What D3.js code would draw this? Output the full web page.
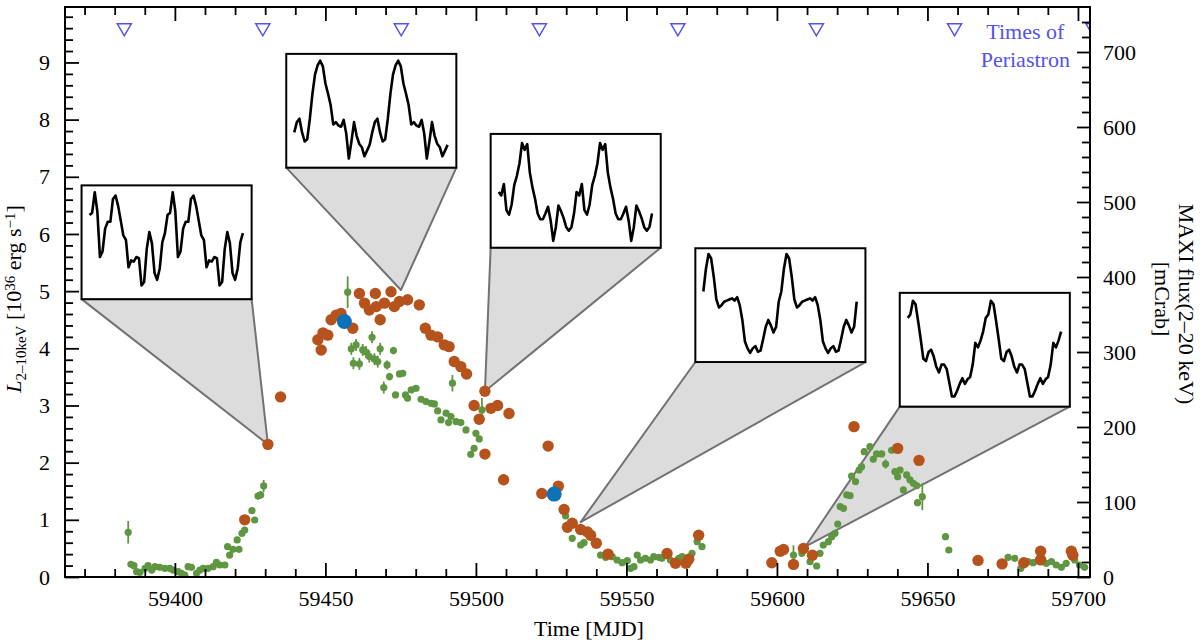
<!DOCTYPE html>
<html>
<head>
<meta charset="utf-8">
<script src="https://cdn.jsdelivr.net/npm/d3@7"></script>
<style>
  body { margin: 0; background: #fff; }
  svg { font-family: "Liberation Serif", "Times New Roman", serif; }
</style>
</head>
<body>
<svg id="chart" width="1200" height="642"></svg>
<script>
// Luminosity points (left axis, 10^36 erg/s)
var orangeMJD = [59423.2, 59430.9, 59435.1, 59447.5, 59448.6, 59449.2, 59450.8, 59451.9, 59453.6, 59455.2,
  59459.1, 59461.3, 59463.0, 59464.6, 59466.6, 59466.9, 59468.2, 59469.6, 59471.8, 59472.9,
  59474.6, 59477.3, 59481.2, 59483.2, 59485.1, 59487.3, 59489.5, 59491.1, 59492.8, 59495.0,
  59496.9, 59499.4, 59501.1, 59503.0, 59503.0, 59505.0, 59507.2, 59509.2, 59511.0, 59521.9,
  59524.0, 59527.4, 59529.3, 59530.4, 59532.0, 59534.8, 59537.0, 59538.1, 59540.0, 59543.9,
  59563.5, 59566.3, 59569.8, 59570.7, 59574.0, 59598.3, 59601.1, 59602.2, 59605.5, 59608.8,
  59611.8, 59625.6, 59640.1, 59647.2, 59666.8, 59674.8, 59682.0, 59687.6, 59687.6, 59697.8, 59698.3];
var orangeL = [1.00, 2.32, 3.15, 4.15, 3.97, 4.27, 4.23, 4.50, 4.58, 4.61,
  4.35, 4.96, 4.79, 4.67, 4.96, 4.73, 4.50, 4.79, 4.99, 4.73,
  4.82, 4.85, 4.76, 4.35, 4.23, 4.20, 4.06, 4.03, 3.77, 3.68,
  3.55, 3.00, 2.76, 3.25, 2.15, 2.95, 3.00, 1.70, 2.86, 1.46,
  2.29, 1.59, 1.18, 0.87, 0.94, 0.83, 0.79, 0.73, 0.59, 0.40,
  0.41, 0.24, 0.24, 0.31, 0.73, 0.25, 0.45, 0.48, 0.22, 0.50,
  0.38, 2.63, 2.25, 2.04, 0.29, 0.23, 0.25, 0.45, 0.30, 0.45, 0.38];

var blueMJD = [59456.3, 59526.0];
var blueL = [4.47, 1.45];

// MAXI flux (right axis, mCrab)
var maxiMJD = [59384.5, 59385.4, 59386.4, 59387.3, 59388.4, 59390.1, 59391.1, 59392.3, 59393.4, 59395.0,
  59396.7, 59398.3, 59399.4, 59401.1, 59402.2, 59403.3, 59404.4, 59405.5, 59407.2, 59408.3,
  59409.4, 59411.0, 59412.7, 59413.8, 59414.9, 59416.6, 59417.5, 59418.2, 59419.3, 59420.7,
  59421.3, 59422.3, 59423.2, 59425.6, 59426.5, 59427.6, 59428.5, 59429.5,
  59457.4, 59458.6, 59459.3, 59460.2, 59461.3, 59462.4, 59463.5, 59464.6, 59465.5, 59466.3,
  59467.4, 59468.2, 59469.4, 59470.5, 59471.3, 59472.6, 59473.3, 59474.6, 59475.7, 59476.6,
  59477.3, 59478.5, 59480.1, 59481.8, 59483.4, 59485.1, 59486.2, 59487.3, 59488.4, 59490.1,
  59490.9, 59491.7, 59492.2, 59493.4, 59495.0, 59496.7, 59498.3, 59499.4, 59500.0, 59501.1, 59502.0,
  59529.8, 59532.0, 59534.8, 59535.9, 59541.4, 59543.1, 59545.3, 59546.9, 59548.6, 59550.3,
  59551.4, 59552.5, 59553.6, 59554.7, 59556.3, 59558.0, 59559.1, 59560.8, 59561.8, 59564.6,
  59567.4, 59568.5, 59571.8, 59573.5, 59575.1,
  59605.5, 59608.3, 59611.0, 59613.2, 59614.3, 59615.4, 59617.1, 59618.2, 59619.3, 59620.2,
  59621.0, 59622.1, 59623.2, 59624.3, 59624.8, 59626.1, 59627.3, 59628.1, 59629.0, 59630.9,
  59632.0, 59633.1, 59634.8, 59636.1, 59638.1, 59639.2, 59640.1, 59640.9, 59642.0, 59643.1,
  59644.2, 59645.3, 59646.4, 59646.7, 59648.3, 59656.0, 59657.1,
  59676.8, 59679.0, 59681.0, 59683.4, 59685.1, 59686.7, 59689.5, 59691.2, 59692.8, 59694.5,
  59696.1, 59698.9, 59700.5, 59702.2];
var maxiFlux = [59.6, 16.9, 15.1, 7.1, 6.2, 11.6, 15.1, 9.3, 13.8, 12.9,
  11.6, 11.6, 9.3, 7.1, 4.9, 2.7, 13.8, 12.9, 4.9, 9.3,
  11.6, 11.6, 13.8, 19.6, 16.0, 16.0, 40.4, 29.3, 36.9, 49.4,
  36.9, 58.3, 62.7, 88.5, 76.0, 108.0, 109.4, 121.4,
  379.8, 304.2, 285.0, 309.5, 284.2, 302.8, 300.0, 293.9, 319.7, 290.4,
  287.2, 304.2, 252.6, 282.8, 267.2, 301.9, 242.8, 270.8, 271.7, 242.8,
  238.4, 249.5, 251.7, 237.0, 233.9, 231.7, 230.8, 221.5, 209.4, 218.4,
  205.9, 213.9, 258.4, 207.2, 205.9, 196.1, 163.7, 171.7, 191.7, 184.1, 222.8,
  81.4, 51.6, 42.7, 45.8, 29.3, 26.2, 27.1, 22.7, 19.1, 21.8,
  11.6, 13.8, 29.3, 22.7, 24.9, 22.7, 27.1, 26.2, 24.9, 22.7,
  24.9, 27.1, 31.6, 47.1, 40.4,
  29.3, 31.6, 20.4, 14.7, 31.6, 42.7, 47.1, 53.8, 58.3, 70.7,
  93.8, 91.6, 109.4, 108.5, 134.7, 127.2, 142.7, 147.1, 167.1, 173.8,
  157.0, 164.1, 164.1, 150.7, 169.0, 140.5, 133.8, 142.7, 116.1, 136.1,
  129.4, 125.0, 121.8, 99.1, 107.1, 53.8, 36.0,
  26.2, 24.9, 11.6, 20.4, 19.1, 21.8, 18.2, 20.4, 16.0, 12.9,
  18.2, 22.7, 16.0, 12.9];
var maxiErr = [15, 3, 3, 3, 3, 3, 3, 3, 3, 3,
  3, 3, 3, 3, 3, 3, 3, 3, 3, 3,
  3, 3, 3, 3, 3, 3, 4, 4, 4, 4,
  4, 4, 4, 4, 4, 5, 5, 8,
  21, 8, 8, 8, 8, 8, 8, 8, 8, 8,
  8, 8, 8, 6, 5, 5, 4, 4, 4, 4,
  4, 4, 4, 4, 4, 4, 4, 4, 4, 4,
  4, 4, 11, 4, 4, 4, 4, 4, 4, 4, 16,
  4, 4, 4, 4, 3, 3, 3, 3, 3, 3,
  3, 3, 3, 3, 3, 3, 3, 3, 3, 3,
  3, 3, 3, 4, 4,
  13, 4, 3, 3, 3, 3, 3, 3, 3, 3,
  4, 4, 4, 4, 4, 4, 4, 4, 4, 4,
  4, 4, 4, 6, 4, 4, 4, 4, 4, 4,
  4, 4, 4, 4, 18, 4, 4,
  3, 3, 3, 3, 3, 3, 3, 3, 3, 3,
  3, 3, 3, 3];

var periastronMJD = [59383.2, 59429.2, 59475.2, 59521.1, 59567.1, 59613.1, 59659.0, 59705.0];

// Tick labels
var xTicks = [59400, 59450, 59500, 59550, 59600, 59650, 59700];
var leftTicks = [0, 1, 2, 3, 4, 5, 6, 7, 8, 9];
var rightTicks = [0, 100, 200, 300, 400, 500, 600, 700];

// Inset pulse profiles: where each one points, and one cycle of normalised rate (drawn twice)
var insetApexMJD = [59430.9, 59475.1, 59503.0, 59534.8, 59609.4];
var insetApexL = [2.32, 5.02, 3.25, 0.96, 0.53];
var profile1 = [0.74, 0.76, 0.94, 0.77, 0.37, 0.42, 0.62, 0.68, 0.68, 0.88, 0.91, 0.82, 0.69, 0.56, 0.52,
  0.28, 0.34, 0.33, 0.37, 0.36, 0.12, 0.15, 0.44, 0.59, 0.49, 0.23, 0.17, 0.27, 0.50, 0.58];
var profile2 = [0.31, 0.40, 0.43, 0.31, 0.23, 0.25, 0.43, 0.65, 0.82, 0.90, 0.94, 0.89, 0.74, 0.65, 0.55,
  0.38, 0.40, 0.37, 0.36, 0.42, 0.30, 0.08, 0.23, 0.40, 0.28, 0.21, 0.18, 0.10, 0.15, 0.20];
var profile3 = [0.49, 0.46, 0.56, 0.33, 0.29, 0.38, 0.55, 0.63, 0.74, 0.92, 0.86, 0.91, 0.66, 0.53, 0.43,
  0.30, 0.25, 0.25, 0.30, 0.36, 0.24, 0.06, 0.18, 0.37, 0.32, 0.26, 0.18, 0.15, 0.18, 0.30];
var profile4 = [0.62, 0.82, 0.95, 0.91, 0.75, 0.55, 0.48, 0.50, 0.53, 0.54, 0.55, 0.56, 0.54, 0.57, 0.50,
  0.37, 0.18, 0.12, 0.08, 0.12, 0.14, 0.09, 0.10, 0.20, 0.31, 0.37, 0.32, 0.26, 0.31, 0.53];
var profile5 = [0.78, 0.81, 0.93, 0.90, 0.75, 0.59, 0.42, 0.40, 0.48, 0.50, 0.44, 0.35, 0.30, 0.37, 0.37,
  0.33, 0.21, 0.09, 0.09, 0.14, 0.20, 0.25, 0.20, 0.24, 0.26, 0.37, 0.56, 0.52, 0.58, 0.66];
var profiles = [profile1, profile2, profile3, profile4, profile5];

// Inset boxes, in data units
var insetLeftMJD = [59369.0, 59437.0, 59504.9, 59572.9, 59640.8];
var insetTopL = [6.85, 9.15, 7.75, 5.75, 4.97];
var insetWidthDays = 56.5,
    insetHeightL = 1.99;

var orange = "#b6531c", green = "#5f9641", blue = "#0b72b8", peri = "#5252ef";

var svg = d3.select("#chart"),
    margin = {top: 7, right: 110, bottom: 65, left: 65},
    width = +svg.attr("width") - margin.left - margin.right,
    height = +svg.attr("height") - margin.top - margin.bottom,
    g = svg.append("g").attr("transform", "translate(" + margin.left + "," + margin.top + ")");

var x = d3.scaleLinear().domain([59363.5, 59704]).range([0, width]);
var yL = d3.scaleLinear().domain([0, 9.97]).range([height, 0]);
var yR = d3.scaleLinear().domain([0, 760]).range([height, 0]);

svg.append("defs").append("clipPath").attr("id", "plotclip")
  .append("rect").attr("width", width).attr("height", height);

// Insets: connectors first, then boxes with profiles
var insets = g.append("g");
insetApexMJD.forEach(function(mjd, i) {
  var x0 = x(insetLeftMJD[i]), x1 = x(insetLeftMJD[i] + insetWidthDays),
      y1 = yL(insetTopL[i] - insetHeightL);
  insets.append("path")
    .attr("d", "M" + x0 + "," + y1 + "L" + x(mjd) + "," + yL(insetApexL[i]) + "L" + x1 + "," + y1 + "Z")
    .attr("fill", "#dcdcdc")
    .attr("stroke", "#727272")
    .attr("stroke-width", 2)
    .attr("stroke-linejoin", "round");
});
insetApexMJD.forEach(function(mjd, i) {
  var x0 = x(insetLeftMJD[i]), x1 = x(insetLeftMJD[i] + insetWidthDays),
      y0 = yL(insetTopL[i]), y1 = yL(insetTopL[i] - insetHeightL);
  var w = x1 - x0, h = y1 - y0;
  var box = insets.append("g").attr("transform", "translate(" + x0 + "," + y0 + ")");
  box.append("rect").attr("width", w).attr("height", h)
    .attr("fill", "#fff").attr("stroke", "#000").attr("stroke-width", 2);
  var prof = profiles[i], n = prof.length;
  var px = d3.scaleLinear().domain([0, 2]).range([w * 0.047, w * 0.047 + w * 0.917]);
  var py = d3.scaleLinear().domain([0, 1]).range([h, 0]);
  var pts = prof.concat(prof).map(function(v, k) { return [k / n, v]; });
  box.append("path")
    .attr("d", d3.line().x(function(d) { return px(d[0]); }).y(function(d) { return py(d[1]); })(pts))
    .attr("fill", "none")
    .attr("stroke", "#000")
    .attr("stroke-width", 2.6)
    .attr("stroke-linejoin", "round");
});

var plot = g.append("g").attr("clip-path", "url(#plotclip)");

// MAXI points with error bars
var maxi = maxiMJD.map(function(d, i) { return {t: d, f: maxiFlux[i], e: maxiErr[i]}; });
plot.append("g").selectAll("line").data(maxi).enter().append("line")
    .attr("x1", function(d) { return x(d.t); })
    .attr("x2", function(d) { return x(d.t); })
    .attr("y1", function(d) { return yR(d.f - d.e); })
    .attr("y2", function(d) { return yR(d.f + d.e); })
    .attr("stroke", green)
    .attr("stroke-width", 1.8);
plot.append("g").selectAll("circle").data(maxi).enter().append("circle")
    .attr("cx", function(d) { return x(d.t); })
    .attr("cy", function(d) { return yR(d.f); })
    .attr("r", 3.6)
    .attr("fill", green);

// Luminosity points
plot.append("g").selectAll("circle").data(orangeMJD).enter().append("circle")
    .attr("cx", function(d) { return x(d); })
    .attr("cy", function(d, i) { return yL(orangeL[i]); })
    .attr("r", 5.7)
    .attr("fill", orange);
plot.append("g").selectAll("circle").data(blueMJD).enter().append("circle")
    .attr("cx", function(d) { return x(d); })
    .attr("cy", function(d, i) { return yL(blueL[i]); })
    .attr("r", 7.5)
    .attr("fill", blue);

// Periastron markers
plot.append("g").selectAll("path").data(periastronMJD).enter().append("path")
    .attr("transform", function(d) { return "translate(" + x(d) + "," + yL(9.57) + ")"; })
    .attr("d", "M-7,-6L7,-6L0,6Z")
    .attr("fill", "none")
    .attr("stroke", peri)
    .attr("stroke-width", 1.5);

g.append("text")
    .attr("x", x(59682.5)).attr("y", 32)
    .attr("text-anchor", "middle").attr("font-size", 22).attr("fill", peri)
    .text("Times of");
g.append("text")
    .attr("x", x(59682.5)).attr("y", 60)
    .attr("text-anchor", "middle").attr("font-size", 22).attr("fill", peri)
    .text("Periastron");

// Axes, ticks inward
function styleAxis(sel) {
  sel.select(".domain").remove();
  sel.selectAll(".tick line").attr("stroke-width", 1.8);
  sel.selectAll("text").attr("font-size", 22).attr("font-family", '"Liberation Serif", "Times New Roman", serif').attr("fill", "#000");
}
var xMinor = d3.range(59370, 59704, 10).filter(function(d) { return d % 50 !== 0; });
var lMinor = d3.range(0.2, 9.9, 0.2).filter(function(d) { return Math.abs(d - Math.round(d)) > 0.01; });
var rMinor = d3.range(20, 760, 20).filter(function(d) { return d % 100 !== 0; });

g.append("g").attr("transform", "translate(0," + height + ")")
  .call(d3.axisBottom(x).tickValues(xTicks).tickFormat(d3.format("d")).tickSizeInner(-14).tickSizeOuter(0).tickPadding(13))
  .call(styleAxis);
g.append("g").attr("transform", "translate(0," + height + ")")
  .call(d3.axisBottom(x).tickValues(xMinor).tickFormat("").tickSizeInner(-8).tickSizeOuter(0))
  .call(styleAxis);
g.append("g")
  .call(d3.axisTop(x).tickValues(xTicks).tickFormat("").tickSizeInner(-14).tickSizeOuter(0))
  .call(styleAxis);
g.append("g")
  .call(d3.axisTop(x).tickValues(xMinor).tickFormat("").tickSizeInner(-8).tickSizeOuter(0))
  .call(styleAxis);
g.append("g")
  .call(d3.axisLeft(yL).tickValues(leftTicks).tickFormat(d3.format("d")).tickSizeInner(-14).tickSizeOuter(0).tickPadding(15))
  .call(styleAxis);
g.append("g")
  .call(d3.axisLeft(yL).tickValues(lMinor).tickFormat("").tickSizeInner(-8).tickSizeOuter(0))
  .call(styleAxis);
g.append("g").attr("transform", "translate(" + width + ",0)")
  .call(d3.axisRight(yR).tickValues(rightTicks).tickFormat(d3.format("d")).tickSizeInner(-13).tickSizeOuter(0).tickPadding(13))
  .call(styleAxis);
g.append("g").attr("transform", "translate(" + width + ",0)")
  .call(d3.axisRight(yR).tickValues(rMinor).tickFormat("").tickSizeInner(-8).tickSizeOuter(0))
  .call(styleAxis);

g.append("rect")
    .attr("width", width).attr("height", height)
    .attr("fill", "none").attr("stroke", "#000").attr("stroke-width", 2);

// Axis titles
svg.append("text")
    .attr("x", 589).attr("y", 636)
    .attr("text-anchor", "middle").attr("font-size", 22)
    .text("Time [MJD]");

var yt = svg.append("text")
    .attr("transform", "translate(21,299) rotate(-90)")
    .attr("text-anchor", "middle").attr("font-size", 22);
yt.append("tspan").attr("font-style", "italic").text("L");
yt.append("tspan").attr("font-size", 15).attr("dy", 4.5).text("2\u201310keV");
yt.append("tspan").attr("dy", -4.5).text(" [10");
yt.append("tspan").attr("font-size", 15).attr("dy", -6).text("36");
yt.append("tspan").attr("dy", 6).text(" erg s");
yt.append("tspan").attr("font-size", 15).attr("dy", -6).text("\u22121");
yt.append("tspan").attr("dy", 6).text("]");

svg.append("text")
    .attr("transform", "translate(1179,304) rotate(90)")
    .attr("text-anchor", "middle").attr("font-size", 22)
    .text("MAXI flux(2\u201320 keV)");
svg.append("text")
    .attr("transform", "translate(1155,299) rotate(90)")
    .attr("text-anchor", "middle").attr("font-size", 22)
    .text("[mCrab]");
</script>
</body>
</html>
